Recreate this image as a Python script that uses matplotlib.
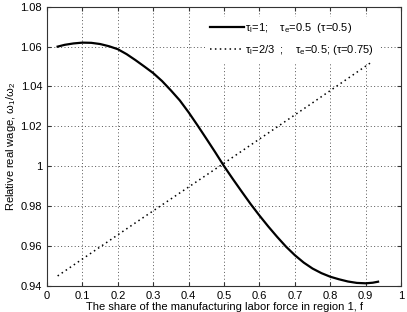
import matplotlib
matplotlib.use('Agg')
import matplotlib.pyplot as plt

plt.rcParams['font.family'] = ['Liberation Sans', 'DejaVu Sans']
plt.rcParams['mathtext.fontset'] = 'custom'
plt.rcParams['mathtext.rm'] = 'Liberation Sans'

# tau_l = 1 curve
f_solid = [0.03, 0.05, 0.075, 0.10, 0.125, 0.15, 0.175, 0.20, 0.225, 0.25, 0.275,
           0.30, 0.325, 0.35, 0.375, 0.40, 0.425, 0.45, 0.475, 0.50, 0.525, 0.55,
           0.575, 0.60, 0.625, 0.65, 0.675, 0.70, 0.725, 0.75, 0.775, 0.80, 0.825,
           0.85, 0.875, 0.90, 0.92, 0.935]
w_solid = [1.0600, 1.0609, 1.0616, 1.0620, 1.0619, 1.0613, 1.0602, 1.0587, 1.0562, 1.0532, 1.0500,
           1.0467, 1.0427, 1.0380, 1.0330, 1.0270, 1.0205, 1.0138, 1.0070, 1.0000, 0.9935, 0.9872,
           0.9810, 0.9752, 0.9697, 0.9645, 0.9596, 0.9553, 0.9516, 0.9486, 0.9463, 0.9445, 0.9432,
           0.9421, 0.9414, 0.9412, 0.9415, 0.9420]

# tau_l = 2/3 line
f_dot = [0.03, 0.25, 0.50, 0.75, 0.935]
w_dot = [0.9449, 0.9716, 1.0015, 1.0318, 1.0545]

xticks = [0, 0.1, 0.2, 0.3, 0.4, 0.5, 0.6, 0.7, 0.8, 0.9, 1]
xticklabels = ['0', '0.1', '0.2', '0.3', '0.4', '0.5', '0.6', '0.7', '0.8', '0.9', '1']
yticks = [0.94, 0.96, 0.98, 1.00, 1.02, 1.04, 1.06, 1.08]
yticklabels = ['0.94', '0.96', '0.98', '1', '1.02', '1.04', '1.06', '1.08']

fig = plt.figure(figsize=(4.07, 3.12), dpi=100)
ax = fig.add_axes([0.1155, 0.0843, 0.870, 0.894])

ax.plot(f_solid, w_solid, color='black', linewidth=1.6,
        label='τ$_\\mathregular{l}$=1;    τ$_\\mathregular{e}$=0.5  (τ=0.5)')
ax.plot(f_dot, w_dot, color='black', linewidth=1.1, linestyle=(0, (1, 2.2)),
        label='τ$_\\mathregular{l}$=2/3  ;    τ$_\\mathregular{e}$=0.5; (τ=0.75)')

ax.set_xlim(0, 1)
ax.set_ylim(0.94, 1.08)
ax.set_xticks(xticks)
ax.set_xticklabels(xticklabels)
ax.set_yticks(yticks)
ax.set_yticklabels(yticklabels)
ax.tick_params(direction='in', top=True, right=True, labelsize=8, length=3, color='#333333')
ax.grid(True, color='#555555', linestyle=(0, (1, 2.5)), linewidth=0.7)
for s in ax.spines.values():
    s.set_linewidth(0.8)
    s.set_color('#333333')

ax.set_xlabel('The share of the manufacturing labor force in region 1, f', fontsize=8, labelpad=1)
ax.set_ylabel('Relative real wage, ω$_\\mathregular{1}$/ω$_\\mathregular{2}$', fontsize=8, labelpad=2)

leg = ax.legend(loc='upper right', bbox_to_anchor=(0.95, 0.985), fontsize=8,
                frameon=True, handlelength=3.0, handletextpad=0.1, labelspacing=0.7,
                borderpad=0.4, fancybox=False)
leg.get_frame().set_edgecolor('white')
leg.get_frame().set_facecolor('white')
leg.get_frame().set_alpha(1)

fig.savefig('out.png', dpi=100)
